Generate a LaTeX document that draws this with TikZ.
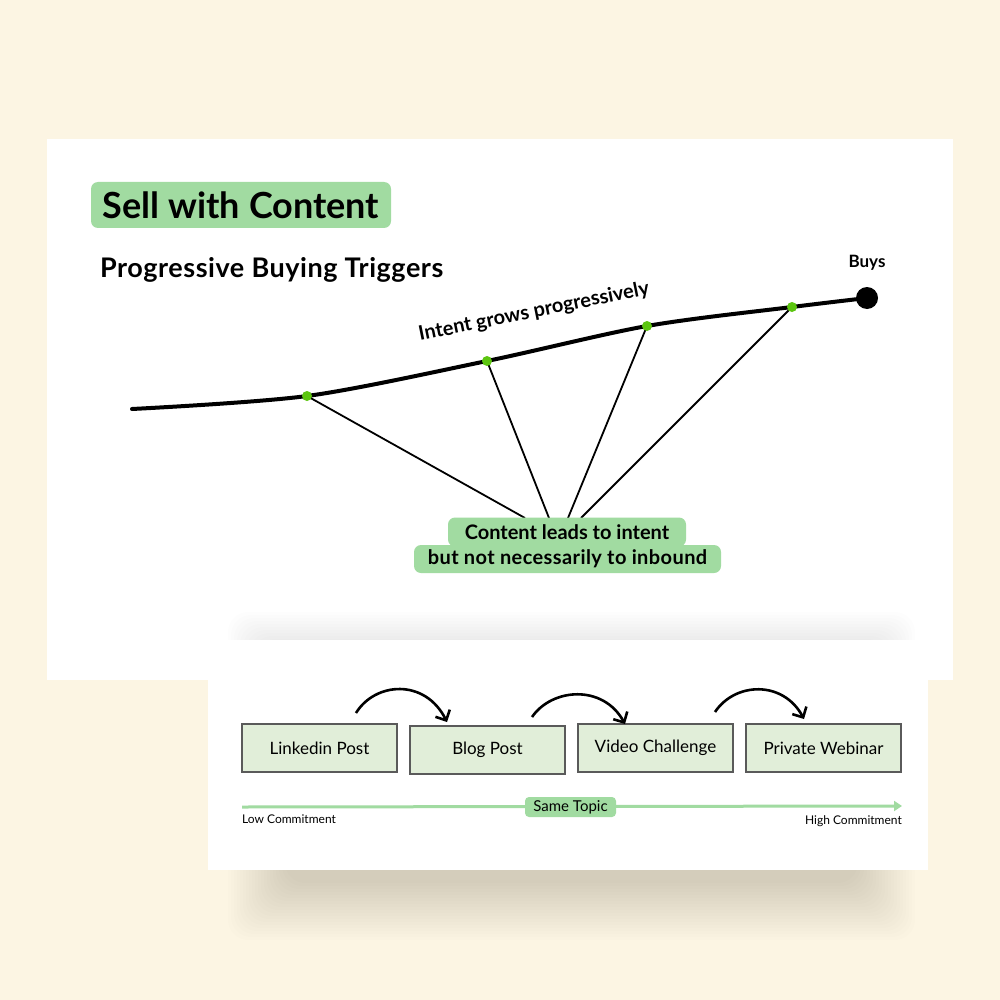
\documentclass[tikz,border=0pt]{standalone}
\usepackage{fontspec}
\setmainfont{Lato}
\newfontfamily\airy{Lato}[LetterSpace=2]
\usetikzlibrary{arrows.meta}
\definecolor{cream}{HTML}{FCF5E3}
\definecolor{leaf}{HTML}{A1DBA1}
\definecolor{pale}{HTML}{E1EED9}
\definecolor{sprout}{HTML}{5CC510}
\definecolor{rim}{HTML}{5A5A5A}
\definecolor{dusk}{HTML}{3A3020}
\begin{document}
\begin{tikzpicture}[x=1pt,y=-1pt]
  \tikzstyle{every node}=[inner sep=0pt]
  \tikzstyle{tag}=[fill=leaf,rounded corners=7pt]
  \tikzstyle{stage}=[draw=rim,fill=pale,line width=1.2pt,minimum width=155pt,minimum height=48pt,font=\fontsize{17}{20}\selectfont]
  \tikzstyle{bump}=[line width=2.6pt,-{Straight Barb[length=8pt,width=16pt]}]
  \tikzstyle{seed}=[circle,fill=sprout,minimum size=10pt]
  \tikzstyle{link}=[line width=1.8pt]
  \fill[cream] (0,0) rectangle (1000,1000);
  \useasboundingbox (0,0) rectangle (1000,1000);
  \fill[white] (47,139) rectangle (953,680);
  \foreach \i in {0,...,19}
    \fill[dusk,opacity=0.009,rounded corners=20pt] (228+3*\i,612+3*\i) rectangle (915-3*\i,940-3*\i);
  \fill[white] (208,640) rectangle (928,870);

  \node[tag,minimum width=300pt,minimum height=46pt,font=\fontsize{36}{40}\selectfont\bfseries] (title) at (241,205) {Sell with Content};
  \node[anchor=west,font=\airy\fontsize{27}{30}\selectfont\bfseries] (sub) at (100,270) {Progressive Buying Triggers};

  \coordinate (start) at (132,409);
  \coordinate (c1) at (307,396);
  \coordinate (c2) at (487,361);
  \coordinate (c3) at (647,326);
  \coordinate (c4) at (792,307);
  \coordinate (c5) at (867,298);
  \draw[line width=4pt,line cap=round] plot[smooth,tension=0.5] coordinates {(start) (c1) (c2) (c3) (c4) (c5)};
  \coordinate (e1) at (525,518);
  \coordinate (e2) at (549,518);
  \coordinate (e3) at (568,518);
  \coordinate (e4) at (581,518);
  \draw[link] (c1) -- (e1);
  \draw[link] (c2) -- (e2);
  \draw[link] (c3) -- (e3);
  \draw[link] (c4) -- (e4);
  \node[seed] (d1) at (c1) {};
  \node[seed] (d2) at (c2) {};
  \node[seed] (d3) at (c3) {};
  \node[seed] (d4) at (c4) {};
  \node[circle,fill=black,minimum size=22pt] (buys) at (c5) {};
  \node[font=\fontsize{17}{20}\selectfont\bfseries] (buyslabel) at (867,263) {Buys};
  \node[rotate=11.5,font=\fontsize{20}{24}\selectfont\bfseries] (intent) at (534,312) {Intent grows progressively};

  \node[tag,minimum width=307pt,minimum height=28pt,font=\airy\fontsize{20}{22}\selectfont\bfseries] (cl2) at (567.5,559) {but not necessarily to inbound};
  \node[tag,minimum width=238pt,minimum height=29pt,font=\fontsize{20}{22}\selectfont\bfseries] (cl1) at (567,532) {Content leads to intent};

  \node[stage] (lp) at (319.5,748) {Linkedin Post};
  \node[stage] (bp) at (487.5,750) {Blog Post};
  \node[stage] (vc) at (655.5,748) {Video Challenge};
  \node[stage] (pw) at (823.5,748) {Private Webinar};
  \coordinate (a1) at (356,713);
  \coordinate (b1) at (447,722);
  \coordinate (a2) at (532,717);
  \coordinate (b2) at (625,724);
  \coordinate (a3) at (715,712);
  \coordinate (b3) at (804,719);
  \draw[bump] (a1) .. controls (375,682) and (425,678) .. (b1);
  \draw[bump] (a2) .. controls (552,688) and (603,684) .. (b2);
  \draw[bump] (a3) .. controls (735,682) and (783,680) .. (b3);

  \coordinate (lo) at (242,807);
  \coordinate (hi) at (902,806);
  \draw[leaf,line width=3pt,-{Triangle[length=8pt,width=10pt]}] (lo) -- (hi);
  \node[tag,rounded corners=4pt,minimum width=91pt,minimum height=20pt,font=\fontsize{15}{17}\selectfont] (topic) at (570.5,807) {Same Topic};
  \node[anchor=north west,font=\fontsize{12}{14}\selectfont] (low) at (242,815) {Low Commitment};
  \node[anchor=north east,font=\fontsize{12}{14}\selectfont] (high) at (902,815) {High Commitment};
\end{tikzpicture}
\end{document}
